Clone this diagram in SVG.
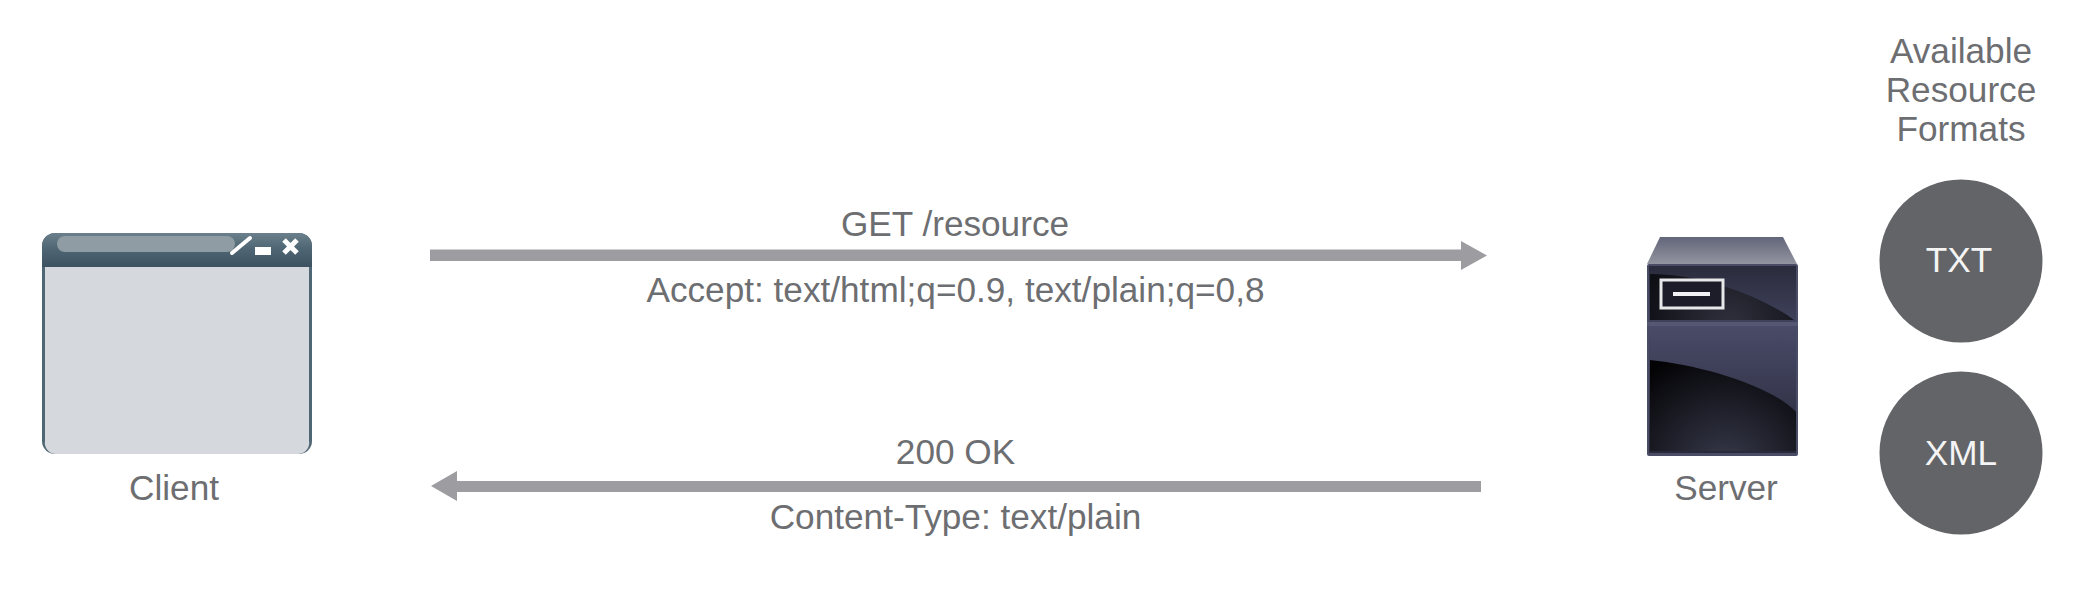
<svg xmlns="http://www.w3.org/2000/svg" width="2092" height="590" viewBox="0 0 2092 590">
<style>
text{font-family:"Liberation Sans",Arial,sans-serif;font-size:35.2px;fill:#6d6e71;text-anchor:middle}
text.w{fill:#f4f4f5}
.arrow{fill:#9d9da1}
.fmt{fill:#636467}
</style>
<defs>
<linearGradient id="tb" x1="0" y1="0" x2="0" y2="1"><stop offset="0" stop-color="#6b808c"/><stop offset="0.45" stop-color="#4f6674"/><stop offset="1" stop-color="#3d5261"/></linearGradient>
<linearGradient id="top" x1="0" y1="0" x2="0" y2="1"><stop offset="0" stop-color="#63667a"/><stop offset="1" stop-color="#92949f"/></linearGradient>
<linearGradient id="fr" x1="0" y1="0" x2="0" y2="1"><stop offset="0" stop-color="#2a2b3c"/><stop offset="1" stop-color="#40425c"/></linearGradient>
<linearGradient id="fr2" x1="0" y1="0" x2="0" y2="1"><stop offset="0" stop-color="#494b68"/><stop offset="1" stop-color="#28293a"/></linearGradient>
<radialGradient id="g1" gradientUnits="userSpaceOnUse" cx="1725" cy="470" r="125"><stop offset="0" stop-color="#3a3b4e"/><stop offset="1" stop-color="#030305"/></radialGradient>
<radialGradient id="g2" gradientUnits="userSpaceOnUse" cx="1730" cy="325" r="90"><stop offset="0" stop-color="#2f303c"/><stop offset="1" stop-color="#0e0f15"/></radialGradient>
</defs>
<g id="connectors">
<path id="request" class="arrow" d="M430 249.500H1461V241L1487 255.500L1461 270V261H430Z"/>
<path id="response" class="arrow" d="M1481 481H457V471L431 486L457 501V492H1481Z"/>
</g>
<g id="client">
<path d="M42 246a13 13 0 0 1 13-13H299a13 13 0 0 1 13 13V441a13 13 0 0 1-13 13H55a13 13 0 0 1-13-13Z" fill="#4f6674"/>
<path d="M42 246a13 13 0 0 1 13-13H299a13 13 0 0 1 13 13V267H42Z" fill="url(#tb)"/>
<path d="M45 267H309V441a11 11 0 0 1-11 13H56a11 11 0 0 1-11-13Z" fill="#d5d8dd"/>
<rect x="57" y="236" width="178" height="16" rx="8" fill="#8f9ca3"/>
<path d="M232 253L250 238" stroke="#fff" stroke-width="4" stroke-linecap="round" fill="none"/>
<rect x="255" y="247" width="16" height="8" fill="#fff"/>
<path d="M284 240L297 253M297 240L284 253" stroke="#fff" stroke-width="5" fill="none"/>
<text x="174" y="500">Client</text>
</g>
<g id="server">
<path d="M1660 237H1783L1797 264H1647Z" fill="url(#top)"/>
<rect x="1647" y="264" width="151" height="192" rx="2" fill="#4a4c66"/>
<path d="M1649 266H1796V323H1649Z" fill="url(#fr)"/>
<path d="M1650 274C1700 274 1760 295 1794 320H1650Z" fill="url(#g2)"/>
<rect x="1647" y="322" width="151" height="4" fill="#565873"/>
<rect x="1649" y="326" width="147" height="127" fill="url(#fr2)"/>
<path d="M1650 360C1700 365 1770 385 1796 412V451H1650Z" fill="url(#g1)"/>
<rect x="1661" y="280" width="62" height="28" fill="#1c1d28" stroke="#e8e8ea" stroke-width="3"/>
<rect x="1673" y="292" width="37" height="4" fill="#f2f2f4"/>
<text x="1726" y="500">Server</text>
</g>
<g id="formats-title">
<text x="1961" y="63">Available</text>
<text x="1961" y="102">Resource</text>
<text x="1961" y="141">Formats</text>
</g>
<g id="txt"><circle class="fmt" cx="1961" cy="261" r="81.500"/><text class="w" x="1959" y="272">TXT</text></g>
<g id="xml"><circle class="fmt" cx="1961" cy="453" r="81.500"/><text class="w" x="1961" y="465">XML</text></g>
<g id="labels">
<text x="955" y="236">GET /resource</text>
<text x="955.500" y="302">Accept: text/html;q=0.9, text/plain;q=0,8</text>
<text x="955.500" y="464">200 OK</text>
<text x="955.500" y="529">Content-Type: text/plain</text>
</g>
</svg>
